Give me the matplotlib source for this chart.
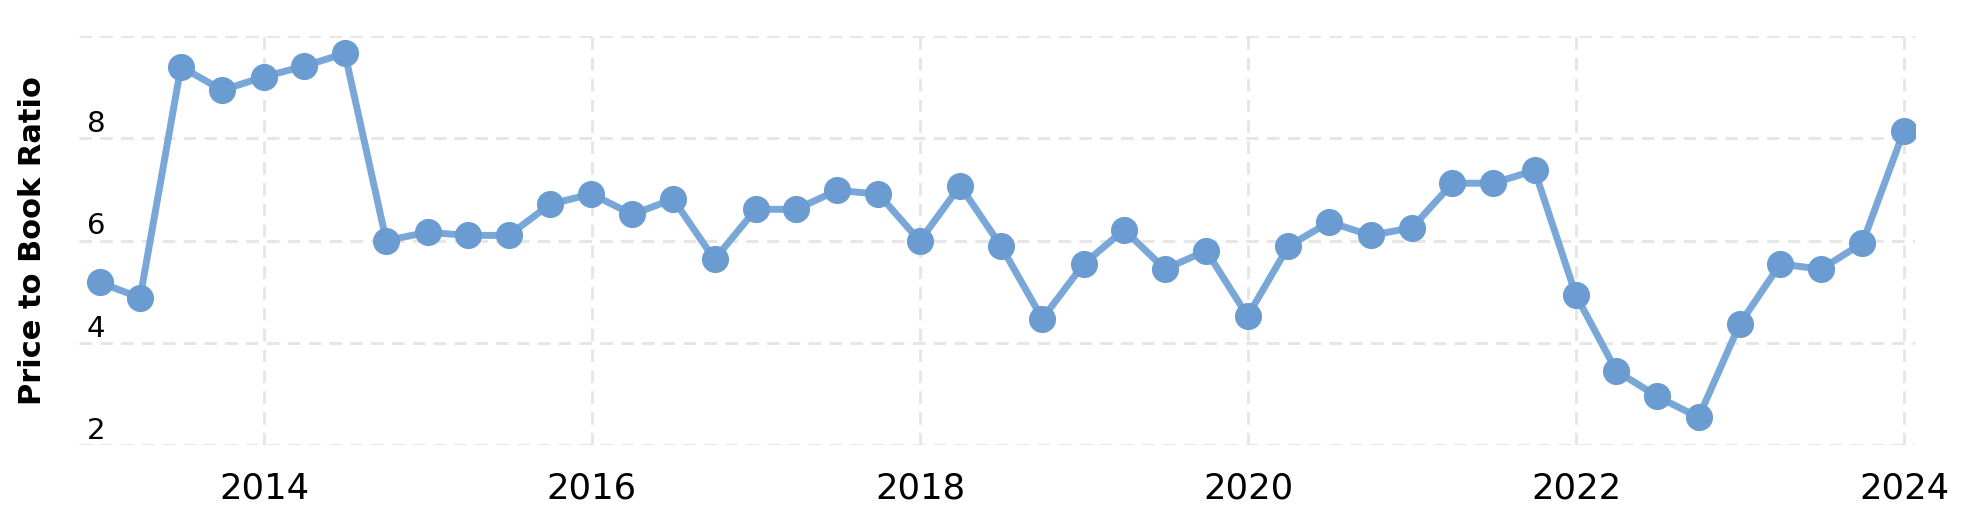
# price to book ratio, quarterly

import pandas as pd
import matplotlib.pyplot as plt

quarters = pd.date_range('2012-12-31', periods=45, freq='QE')
pb_ratio = [5.18, 4.88, 9.40, 8.94, 9.20, 9.41, 9.66, 6.00, 6.16, 6.10,
            6.10, 6.71, 6.91, 6.51, 6.81, 5.63, 6.61, 6.61, 6.98, 6.91,
            5.99, 7.07, 5.89, 4.47, 5.54, 6.21, 5.44, 5.80, 4.52, 5.89,
            6.36, 6.10, 6.25, 7.12, 7.12, 7.37, 4.93, 3.45, 2.95, 2.54,
            4.37, 5.54, 5.44, 5.95, 8.14]
year_ticks = ['2014', '2016', '2018', '2020', '2022', '2024']
y_ticks = [2, 4, 6, 8, 10]
y_labels = ['2', '4', '6', '8', '']

plt.rcParams['font.family'] = 'DejaVu Sans'
plt.rcParams['lines.scale_dashes'] = False

fig = plt.figure(figsize=(19.72, 5.15), dpi=100)
ax = fig.add_axes([79/1972, 1-445/515, (1915-79)/1972, (445-36)/515])

ax.plot(quarters, pb_ratio, color='#79a7d7', linewidth=5, zorder=3,
        marker='o', markersize=18.5, markerfacecolor='#6a9bd1',
        markeredgecolor='#6a9bd1')

ax.set_ylim(2, 10)
ax.set_xlim(pd.Timestamp('2012-11-15'), pd.Timestamp('2024-01-25'))
ax.set_yticks(y_ticks)
ax.set_xticks([pd.Timestamp(y + '-01-01') for y in year_ticks])
ax.set_xticklabels(year_ticks, fontsize=25.5)
ax.tick_params(axis='x', length=0, pad=19)
ax.tick_params(axis='y', length=0, labelleft=False)

ax.grid(True, color='#e6e6e6', linewidth=2.2, linestyle=(0, (9, 6)))
for s in ax.spines.values():
    s.set_visible(False)

# y labels sit inside the plot, just above their grid line
for v, lab in zip(y_ticks, y_labels):
    ax.annotate(lab, xy=(0, v), xycoords=('axes fraction', 'data'),
                xytext=(8, 6), textcoords='offset pixels',
                ha='left', va='baseline', fontsize=21)

fig.text(33/1972, 1-241/515, 'Price to Book Ratio', rotation=90,
         ha='center', va='center', fontsize=22, fontweight='bold')

plt.savefig('out.png')
